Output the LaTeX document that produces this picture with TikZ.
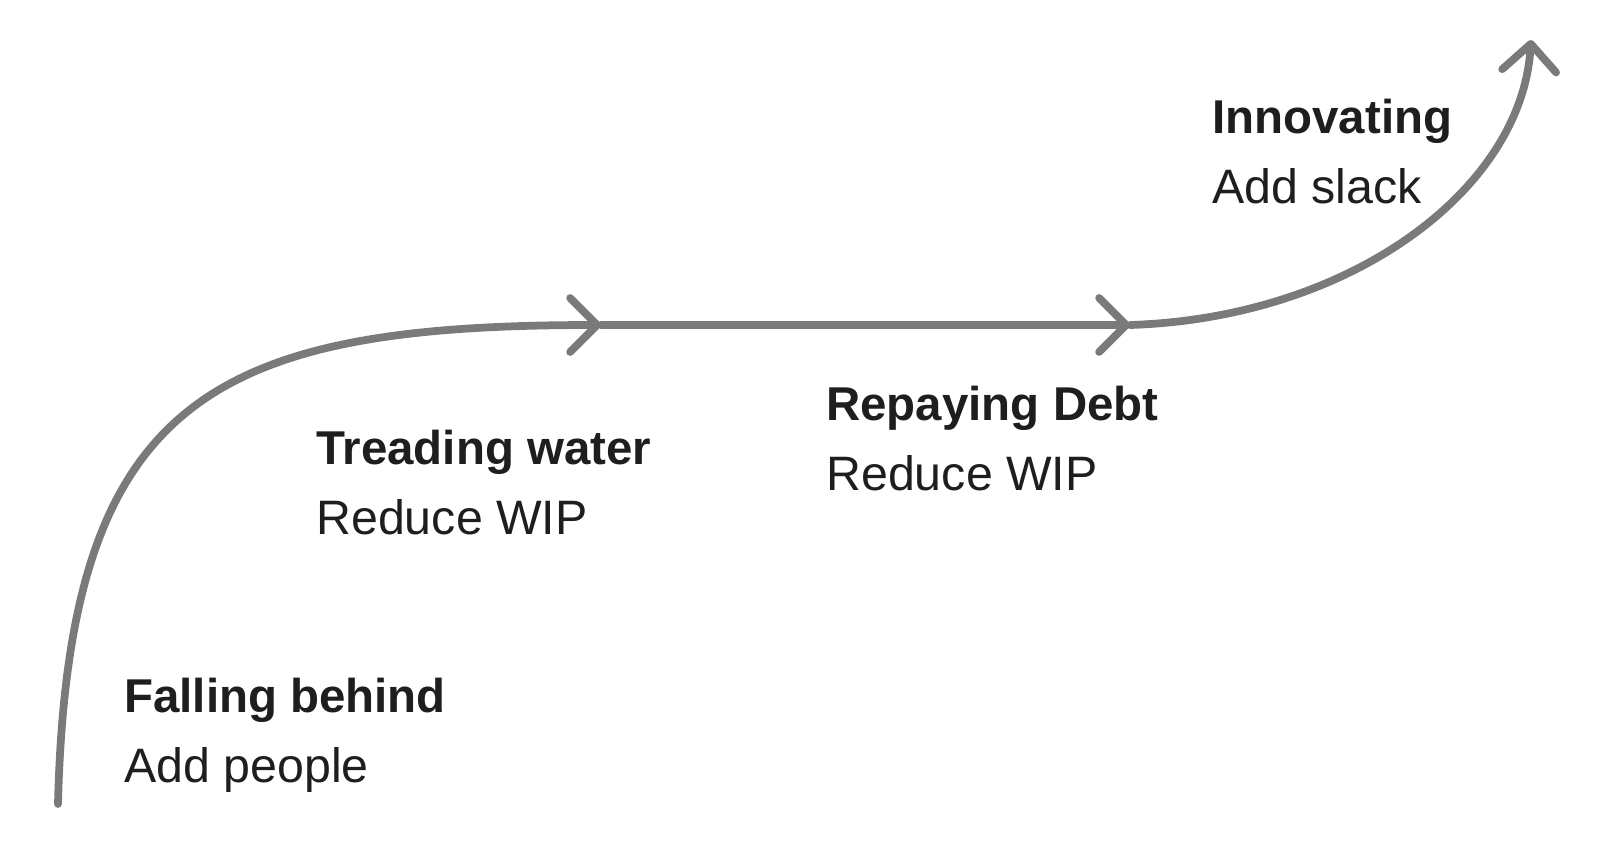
\documentclass[tikz,border=0pt]{standalone}
\usepackage{fontspec}
\setmainfont{Liberation Sans}
\usetikzlibrary{positioning,arrows.meta}

\definecolor{trendgray}{RGB}{122,122,122}
\definecolor{ink}{RGB}{30,30,30}

\begin{document}
\begin{tikzpicture}[
  x=0.2mm, y=-0.2mm,
  >={Straight Barb[length=5.4mm,width=10.8mm,round]},
  trend/.style={->,line width=1.55mm,trendgray,line cap=round,line join=round},
  txt/.style={font=\fontsize{27.5}{32}\selectfont,text=ink,inner sep=0pt,anchor=base west},
  head/.style={txt,font=\fontsize{27}{32}\selectfont\bfseries},
  act/.style={txt},
]
\useasboundingbox (0,0) rectangle (1615,842);

% --- points along the trend line ---
\coordinate (start) at (58,804);
\coordinate (tread) at (601,325);
\coordinate (repay) at (1130,325);
\coordinate (top)   at (1531,40);

% --- the curve, in three strokes ---
\draw[trend] (start) .. controls (68,400) and (210,325) .. (tread);
\draw[trend] (tread) -- (repay);
\draw[trend] (repay) .. controls (1350,318) and (1522,190) .. (top);

% --- stages ---
\node[head] (fall) at (124,712) {Falling behind};
\node[act,at={([yshift=-14mm]fall.base west)}] (people) {Add people};

\node[head] (water) at (316,464) {Treading water};
\node[act,at={([yshift=-14mm]water.base west)}] (wip1) {Reduce WIP};

\node[head] (debt) at (826,420) {Repaying Debt};
\node[act,at={([yshift=-14mm]debt.base west)}] (wip2) {Reduce WIP};

\node[head] (innov) at (1212,133) {Innovating};
\node[act,at={([yshift=-14mm]innov.base west)}] (slack) {Add slack};

\end{tikzpicture}
\end{document}
